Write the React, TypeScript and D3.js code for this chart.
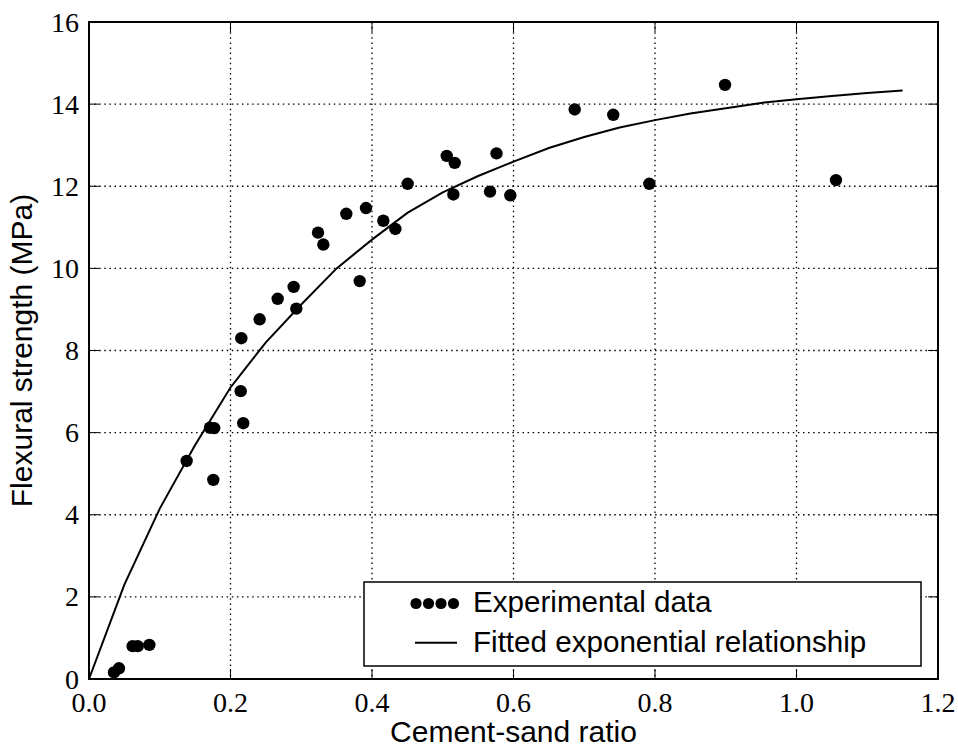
import React from "react";
import * as d3 from "d3";

const W = 958;
const H = 747;
const M = { left: 89, right: 938, top: 22, bottom: 679 };

const xTicks = [0.0, 0.2, 0.4, 0.6, 0.8, 1.0, 1.2];
const yTicks = [0, 2, 4, 6, 8, 10, 12, 14, 16];

const expX = [0.0353, 0.0424, 0.0617, 0.0688, 0.0853, 0.138, 0.171, 0.177, 0.1757, 0.2144, 0.218, 0.2153, 0.2412, 0.2667, 0.2893, 0.293, 0.3237, 0.3312, 0.3637, 0.3826, 0.3915, 0.416, 0.433, 0.4504, 0.5056, 0.5169, 0.515, 0.5668, 0.576, 0.5955, 0.6865, 0.741, 0.792, 0.899, 1.0558];
const expY = [0.16, 0.26, 0.8, 0.8, 0.83, 5.31, 6.12, 6.11, 4.85, 7.01, 6.23, 8.3, 8.76, 9.26, 9.55, 9.02, 10.87, 10.58, 11.33, 9.69, 11.47, 11.16, 10.96, 12.06, 12.74, 12.57, 11.8, 11.87, 12.8, 11.78, 13.87, 13.74, 12.06, 14.47, 12.15];

const fitX = [0, 0.05, 0.1, 0.15, 0.2, 0.25, 0.3, 0.35, 0.4, 0.45, 0.5, 0.55, 0.6, 0.65, 0.7, 0.75, 0.8, 0.85, 0.9, 0.95, 1.0, 1.05, 1.1, 1.15];
const fitY = [0, 2.3, 4.15, 5.7, 7.1, 8.2, 9.12, 10.0, 10.7, 11.35, 11.85, 12.25, 12.6, 12.93, 13.2, 13.43, 13.61, 13.77, 13.9, 14.03, 14.12, 14.2, 14.27, 14.33];

const legendLabels = ["Experimental data", "Fitted exponential relationship"];
const xLabel = "Cement-sand ratio";
const yLabel = "Flexural strength (MPa)";

const SERIF = "'Liberation Serif', 'Times New Roman', serif";
const SANS = "'Liberation Sans', Arial, Helvetica, sans-serif";

export default function App() {
  const x = d3.scaleLinear().domain([0, 1.2]).range([M.left, M.right]);
  const y = d3.scaleLinear().domain([0, 16]).range([M.bottom, M.top]);
  const line = d3
    .line<number>()
    .x((_, i) => x(fitX[i]))
    .y((d) => y(d));
  const tickLen = 10;
  const grid = "1.5,3.6";

  return (
    <svg
      width={W}
      height={H}
      style={{ position: "absolute", left: 0, top: 0, background: "#fff" }}
    >
      <rect x={0} y={0} width={W} height={H} fill="#fff" />
      {/* grid */}
      {xTicks.slice(1, -1).map((t) => (
        <line key={"gx" + t} x1={x(t)} x2={x(t)} y1={M.top} y2={M.bottom} stroke="#000" strokeWidth={1.3} strokeDasharray={grid} />
      ))}
      {yTicks.slice(1, -1).map((t) => (
        <line key={"gy" + t} x1={M.left} x2={M.right} y1={y(t)} y2={y(t)} stroke="#000" strokeWidth={1.3} strokeDasharray={grid} />
      ))}
      {/* ticks */}
      {xTicks.map((t) => (
        <g key={"tx" + t}>
          <line x1={x(t)} x2={x(t)} y1={M.bottom} y2={M.bottom - tickLen} stroke="#000" strokeWidth={1} />
          <line x1={x(t)} x2={x(t)} y1={M.top} y2={M.top + tickLen} stroke="#000" strokeWidth={1} />
          <text x={x(t)} y={711.5} textAnchor="middle" fontFamily={SERIF} fontSize={28} fill="#000">
            {t.toFixed(1)}
          </text>
        </g>
      ))}
      {yTicks.map((t) => (
        <g key={"ty" + t}>
          <line x1={M.left} x2={M.left + tickLen} y1={y(t)} y2={y(t)} stroke="#000" strokeWidth={1} />
          <line x1={M.right} x2={M.right - tickLen} y1={y(t)} y2={y(t)} stroke="#000" strokeWidth={1} />
          <text x={79} y={y(t) + 9.5} textAnchor="end" fontFamily={SERIF} fontSize={28} fill="#000">
            {t}
          </text>
        </g>
      ))}
      {/* fitted curve */}
      <path d={line(fitY) || ""} fill="none" stroke="#000" strokeWidth={2} />
      {/* points */}
      {expX.map((v, i) => (
        <circle key={"p" + i} cx={x(v)} cy={y(expY[i])} r={6.2} fill="#000" />
      ))}
      {/* frame */}
      <rect x={M.left} y={M.top} width={M.right - M.left} height={M.bottom - M.top} fill="none" stroke="#000" strokeWidth={2} />
      {/* legend */}
      <rect x={364} y={582} width={557} height={84} fill="#fff" stroke="#000" strokeWidth={1.5} />
      {[416, 428.5, 441, 453.5].map((cx, i) => (
        <circle key={"l" + i} cx={cx} cy={603.5} r={5.6} fill="#000" />
      ))}
      <line x1={415} x2={457} y1={642.7} y2={642.7} stroke="#000" strokeWidth={2} />
      <text x={473} y={612} fontFamily={SANS} fontSize={29.6} fill="#000">
        {legendLabels[0]}
      </text>
      <text x={473} y={651.5} fontFamily={SANS} fontSize={29.6} fill="#000">
        {legendLabels[1]}
      </text>
      {/* axis labels */}
      <text x={(M.left + M.right) / 2} y={742} textAnchor="middle" fontFamily={SANS} fontSize={30} fill="#000">
        {xLabel}
      </text>
      <text
        transform={`translate(32,${(M.top + M.bottom) / 2}) rotate(-90)`}
        textAnchor="middle"
        fontFamily={SANS}
        fontSize={30}
        fill="#000"
      >
        {yLabel}
      </text>
    </svg>
  );
}
